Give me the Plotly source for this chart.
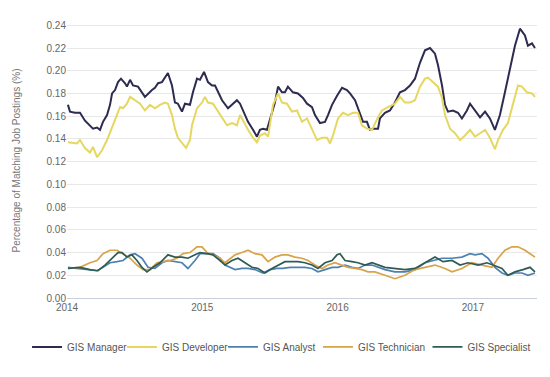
import plotly.graph_objects as go

# ---- data (decimal years, share of postings in %) ----
manager_t = [2014.007, 2014.022, 2014.059, 2014.096, 2014.133, 2014.170, 2014.192, 2014.222, 2014.244, 2014.266,
             2014.296, 2014.318, 2014.333, 2014.355, 2014.377, 2014.399, 2014.429, 2014.443, 2014.466, 2014.488,
             2014.525, 2014.576, 2014.599, 2014.628, 2014.650, 2014.673, 2014.702, 2014.724, 2014.746, 2014.776,
             2014.798, 2014.820, 2014.850, 2014.872, 2014.909, 2014.931, 2014.961, 2014.983, 2015.013, 2015.042,
             2015.072, 2015.094, 2015.116, 2015.146, 2015.190, 2015.227, 2015.256, 2015.279, 2015.301, 2015.338,
             2015.375, 2015.404, 2015.426, 2015.449, 2015.478, 2015.515, 2015.537, 2015.560, 2015.589, 2015.611,
             2015.633, 2015.670, 2015.707, 2015.744, 2015.774, 2015.811, 2015.833, 2015.870, 2015.907, 2015.929,
             2015.959, 2015.996, 2016.033, 2016.069, 2016.092, 2016.129, 2016.166, 2016.188, 2016.217, 2016.239,
             2016.262, 2016.299, 2016.313, 2016.350, 2016.387, 2016.424, 2016.461, 2016.498, 2016.535, 2016.572,
             2016.609, 2016.646, 2016.683, 2016.720, 2016.742, 2016.772, 2016.794, 2016.816, 2016.853, 2016.890,
             2016.919, 2016.956, 2016.979, 2017.016, 2017.053, 2017.090, 2017.126, 2017.163, 2017.200, 2017.237,
             2017.274, 2017.311, 2017.348, 2017.385, 2017.407, 2017.437, 2017.459]
manager_v = [0.170, 0.164, 0.163, 0.163, 0.156, 0.152, 0.149, 0.150, 0.148, 0.155,
             0.161, 0.170, 0.180, 0.183, 0.190, 0.193, 0.189, 0.186, 0.192, 0.187,
             0.186, 0.177, 0.180, 0.183, 0.185, 0.189, 0.190, 0.194, 0.198, 0.187,
             0.172, 0.171, 0.164, 0.171, 0.170, 0.181, 0.193, 0.192, 0.199, 0.190,
             0.187, 0.187, 0.181, 0.174, 0.167, 0.171, 0.174, 0.171, 0.165, 0.155,
             0.148, 0.142, 0.148, 0.149, 0.148, 0.164, 0.172, 0.186, 0.181, 0.181,
             0.186, 0.181, 0.180, 0.176, 0.171, 0.168, 0.161, 0.154, 0.155, 0.161,
             0.170, 0.178, 0.185, 0.183, 0.180, 0.174, 0.163, 0.155, 0.155, 0.148,
             0.149, 0.149, 0.158, 0.163, 0.165, 0.172, 0.181, 0.183, 0.187, 0.193,
             0.207, 0.218, 0.220, 0.215, 0.205, 0.187, 0.170, 0.164, 0.165, 0.163,
             0.158, 0.165, 0.171, 0.165, 0.159, 0.164, 0.158, 0.148, 0.161, 0.181,
             0.202, 0.222, 0.237, 0.231, 0.222, 0.224, 0.220]

developer_t = [2014.007, 2014.074, 2014.096, 2014.133, 2014.170, 2014.192, 2014.222, 2014.259, 2014.296, 2014.318,
               2014.340, 2014.370, 2014.392, 2014.414, 2014.443, 2014.466, 2014.503, 2014.540, 2014.576, 2014.613,
               2014.650, 2014.687, 2014.724, 2014.746, 2014.776, 2014.798, 2014.820, 2014.850, 2014.880, 2014.909,
               2014.924, 2014.961, 2014.998, 2015.020, 2015.042, 2015.079, 2015.116, 2015.146, 2015.183, 2015.220,
               2015.256, 2015.279, 2015.301, 2015.338, 2015.375, 2015.404, 2015.426, 2015.463, 2015.486, 2015.523,
               2015.560, 2015.589, 2015.626, 2015.663, 2015.700, 2015.737, 2015.774, 2015.811, 2015.848, 2015.885,
               2015.922, 2015.944, 2015.966, 2016.003, 2016.040, 2016.077, 2016.114, 2016.151, 2016.180, 2016.217,
               2016.254, 2016.299, 2016.328, 2016.373, 2016.424, 2016.461, 2016.498, 2016.535, 2016.572, 2016.609,
               2016.646, 2016.668, 2016.705, 2016.742, 2016.772, 2016.794, 2016.831, 2016.868, 2016.905, 2016.942,
               2016.979, 2017.016, 2017.053, 2017.090, 2017.126, 2017.163, 2017.186, 2017.223, 2017.259, 2017.296,
               2017.333, 2017.363, 2017.400, 2017.437, 2017.459]
developer_v = [0.137, 0.136, 0.139, 0.132, 0.128, 0.133, 0.124, 0.130, 0.139, 0.146,
               0.152, 0.161, 0.168, 0.167, 0.171, 0.177, 0.174, 0.171, 0.165, 0.170,
               0.167, 0.170, 0.172, 0.171, 0.161, 0.149, 0.141, 0.136, 0.132, 0.139,
               0.152, 0.167, 0.172, 0.177, 0.172, 0.171, 0.164, 0.158, 0.152, 0.154,
               0.152, 0.161, 0.156, 0.148, 0.141, 0.137, 0.143, 0.145, 0.142, 0.170,
               0.180, 0.172, 0.171, 0.164, 0.165, 0.155, 0.158, 0.148, 0.139, 0.141,
               0.141, 0.136, 0.143, 0.158, 0.163, 0.161, 0.163, 0.163, 0.152, 0.149,
               0.148, 0.159, 0.165, 0.168, 0.171, 0.177, 0.172, 0.172, 0.174, 0.186,
               0.193, 0.194, 0.190, 0.186, 0.176, 0.161, 0.149, 0.145, 0.139, 0.143,
               0.148, 0.142, 0.145, 0.148, 0.141, 0.131, 0.139, 0.148, 0.154, 0.171,
               0.187, 0.186, 0.181, 0.180, 0.177]

analyst_t = [2014.007, 2014.096, 2014.170, 2014.222, 2014.266, 2014.318, 2014.370, 2014.414, 2014.466, 2014.503,
             2014.554, 2014.599, 2014.650, 2014.702, 2014.746, 2014.798, 2014.850, 2014.894, 2014.946, 2014.983,
             2015.035, 2015.079, 2015.131, 2015.168, 2015.242, 2015.293, 2015.338, 2015.389, 2015.449, 2015.500,
             2015.552, 2015.596, 2015.648, 2015.707, 2015.759, 2015.811, 2015.855, 2015.907, 2015.959, 2016.003,
             2016.055, 2016.106, 2016.151, 2016.203, 2016.254, 2016.350, 2016.424, 2016.498, 2016.572, 2016.646,
             2016.720, 2016.772, 2016.846, 2016.919, 2016.979, 2017.016, 2017.067, 2017.112, 2017.163, 2017.215,
             2017.259, 2017.311, 2017.363, 2017.407, 2017.459]
analyst_v = [0.027, 0.026, 0.025, 0.024, 0.027, 0.031, 0.032, 0.033, 0.038, 0.039,
             0.035, 0.027, 0.026, 0.031, 0.033, 0.032, 0.031, 0.026, 0.033, 0.039,
             0.039, 0.039, 0.035, 0.029, 0.025, 0.026, 0.026, 0.025, 0.022, 0.025,
             0.026, 0.026, 0.027, 0.027, 0.027, 0.026, 0.023, 0.025, 0.027, 0.027,
             0.029, 0.027, 0.026, 0.029, 0.029, 0.025, 0.023, 0.023, 0.025, 0.031,
             0.033, 0.035, 0.035, 0.036, 0.039, 0.038, 0.039, 0.035, 0.027, 0.022,
             0.020, 0.022, 0.022, 0.020, 0.022]

technician_t = [2014.007, 2014.096, 2014.170, 2014.222, 2014.266, 2014.318, 2014.370, 2014.414, 2014.466, 2014.517,
                2014.562, 2014.613, 2014.665, 2014.710, 2014.761, 2014.813, 2014.857, 2014.909, 2014.961, 2014.998,
                2015.035, 2015.079, 2015.131, 2015.168, 2015.242, 2015.293, 2015.338, 2015.389, 2015.441, 2015.486,
                2015.537, 2015.589, 2015.633, 2015.685, 2015.737, 2015.781, 2015.833, 2015.885, 2015.929, 2015.981,
                2016.033, 2016.077, 2016.129, 2016.180, 2016.225, 2016.276, 2016.350, 2016.424, 2016.498, 2016.572,
                2016.646, 2016.720, 2016.794, 2016.846, 2016.919, 2016.993, 2017.067, 2017.141, 2017.186, 2017.237,
                2017.289, 2017.333, 2017.385, 2017.437, 2017.459]
technician_v = [0.026, 0.027, 0.031, 0.033, 0.039, 0.042, 0.042, 0.039, 0.035, 0.029,
                0.025, 0.025, 0.031, 0.032, 0.033, 0.035, 0.039, 0.040, 0.045, 0.045,
                0.040, 0.038, 0.035, 0.031, 0.038, 0.040, 0.042, 0.039, 0.038, 0.032,
                0.036, 0.038, 0.038, 0.036, 0.035, 0.033, 0.029, 0.026, 0.029, 0.031,
                0.029, 0.027, 0.026, 0.025, 0.023, 0.023, 0.020, 0.017, 0.020, 0.025,
                0.027, 0.029, 0.026, 0.023, 0.026, 0.031, 0.029, 0.027, 0.035, 0.042,
                0.045, 0.045, 0.042, 0.038, 0.036]

specialist_t = [2014.007, 2014.096, 2014.170, 2014.229, 2014.281, 2014.333, 2014.377, 2014.407, 2014.443, 2014.480,
                2014.517, 2014.554, 2014.591, 2014.636, 2014.687, 2014.746, 2014.798, 2014.850, 2014.894, 2014.946,
                2014.983, 2015.035, 2015.079, 2015.131, 2015.168, 2015.220, 2015.264, 2015.316, 2015.367, 2015.412,
                2015.463, 2015.515, 2015.560, 2015.611, 2015.663, 2015.707, 2015.759, 2015.811, 2015.855, 2015.907,
                2015.959, 2015.996, 2016.018, 2016.055, 2016.106, 2016.151, 2016.203, 2016.254, 2016.350, 2016.424,
                2016.498, 2016.572, 2016.646, 2016.720, 2016.779, 2016.846, 2016.905, 2016.964, 2017.038, 2017.104,
                2017.149, 2017.215, 2017.259, 2017.311, 2017.370, 2017.422, 2017.459]
specialist_v = [0.026, 0.027, 0.025, 0.024, 0.029, 0.035, 0.040, 0.040, 0.036, 0.038,
                0.033, 0.027, 0.023, 0.027, 0.031, 0.038, 0.036, 0.036, 0.035, 0.038,
                0.040, 0.039, 0.038, 0.033, 0.029, 0.033, 0.035, 0.031, 0.027, 0.026,
                0.022, 0.026, 0.029, 0.032, 0.032, 0.032, 0.031, 0.029, 0.026, 0.031,
                0.033, 0.038, 0.039, 0.033, 0.032, 0.031, 0.029, 0.031, 0.027, 0.026,
                0.025, 0.026, 0.031, 0.036, 0.032, 0.033, 0.029, 0.031, 0.029, 0.031,
                0.029, 0.026, 0.020, 0.023, 0.025, 0.027, 0.023]

year_ticks = [2014, 2015, 2016, 2017]
year_labels = ["2014", "2015", "2016", "2017"]
y_ticks = [0.00, 0.02, 0.04, 0.06, 0.08, 0.10, 0.12, 0.14, 0.16, 0.18, 0.20, 0.22, 0.24]

# name, x, y, colour, width, legend id, legend x position (paper fraction)
series = [
    ("GIS Manager", manager_t, manager_v, "#2d2b50", 2.0, "legend", -0.085),
    ("GIS Developer", developer_t, developer_v, "#e6d760", 2.0, "legend2", 0.117),
    ("GIS Analyst", analyst_t, analyst_v, "#4f81b0", 1.7, "legend3", 0.332),
    ("GIS Technician", technician_t, technician_v, "#d9a348", 1.7, "legend4", 0.534),
    ("GIS Specialist", specialist_t, specialist_v, "#2e5c55", 1.7, "legend5", 0.767),
]

fig = go.Figure()
for name, t, v, color, w, lg, lx in series:
    fig.add_trace(go.Scatter(x=t, y=v, name=name, mode="lines", legend=lg,
                             line=dict(color=color, width=w)))

font_family = "Liberation Sans, Arial, sans-serif"
legend_layout = {}
for name, t, v, color, w, lg, lx in series:
    legend_layout[lg] = dict(orientation="h", x=lx, xanchor="left", y=-0.178, yanchor="middle",
                             font=dict(size=10, color="#555555"), itemwidth=30,
                             bgcolor="rgba(0,0,0,0)", borderwidth=0)

# the page body adds an 8px offset, so the figure is 8px smaller than the window
fig.update_layout(
    width=542, height=369,
    margin=dict(l=59, r=13, t=15, b=79, autoexpand=False),
    paper_bgcolor="white", plot_bgcolor="white",
    font=dict(family=font_family, color="#666666", size=10),
    showlegend=True,
    xaxis=dict(range=[2014, 2017.474], tickmode="array", tickvals=year_ticks, ticktext=year_labels,
               showgrid=False, zeroline=False, showline=True, linecolor="#c8d0dc", linewidth=1,
               ticks="", tickfont=dict(size=10, color="#666666")),
    yaxis=dict(range=[0, 0.242], tickmode="array", tickvals=y_ticks, tickformat=".2f",
               showgrid=True, gridcolor="#e8e8e8", gridwidth=1, zeroline=False, showline=False,
               ticks="", tickfont=dict(size=10, color="#666666"),
               title=dict(text="Percentage of Matching Job Postings (%)", standoff=24,
                          font=dict(size=10, color="#777777"))),
    **legend_layout,
)

fig.write_html("out.html")
